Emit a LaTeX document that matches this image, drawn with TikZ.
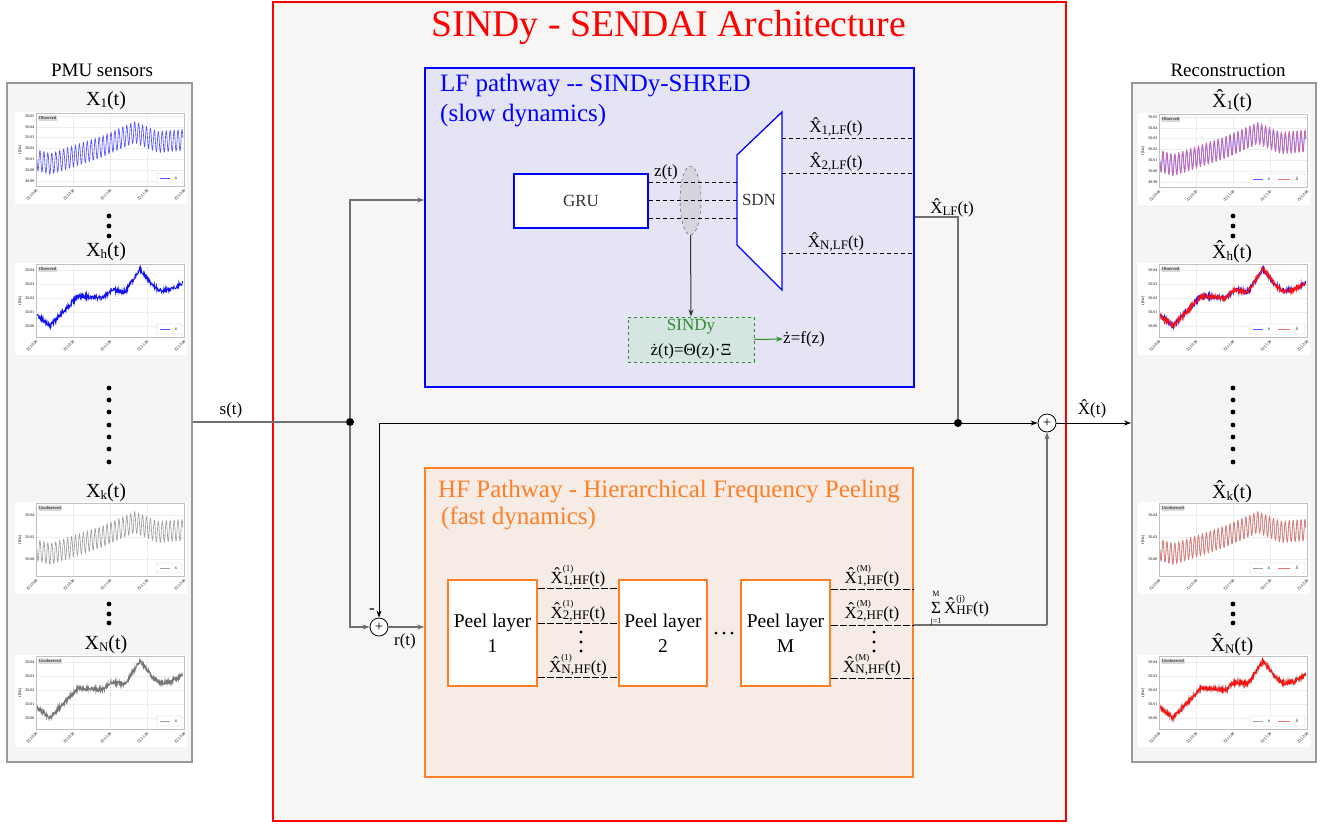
\documentclass[tikz,border=0pt]{standalone}
\usepackage{fontspec}
\setmainfont{Liberation Serif}
\usetikzlibrary{arrows.meta,shapes.geometric,calc}
\definecolor{mainred}{HTML}{FF0000}
\definecolor{mainfill}{HTML}{F7F6F4}
\definecolor{lfblue}{HTML}{0000FF}
\definecolor{lffill}{HTML}{E5E4F4}
\definecolor{hforange}{HTML}{FF7F27}
\definecolor{hffill}{HTML}{F7EBE5}
\definecolor{panelfill}{HTML}{F5F5F5}
\definecolor{panelline}{HTML}{999999}
\definecolor{sgreen}{HTML}{2E8B2E}
\definecolor{sfill}{HTML}{D5E5E2}
\definecolor{ellfill}{HTML}{D5D5E0}
\definecolor{lineGray}{HTML}{707070}
\definecolor{sigblue}{HTML}{1010F0}
\definecolor{sigblueL}{HTML}{5555FF}
\definecolor{siggray}{HTML}{A0A0A0}
\definecolor{siggrayD}{HTML}{777777}
\definecolor{sigred}{HTML}{FF1010}
\definecolor{sigpink}{HTML}{E0508A}
\definecolor{sigpinkL}{HTML}{F07070}

\newcommand\fsz[1]{\fontsize{#1}{#1}\selectfont}
\newcommand\mysub[2][12.5]{\raisebox{-0.2ex}{\fontsize{#1}{#1}\selectfont #2}}
\newcommand\mysupsub[2]{\raisebox{-0.2ex}{\shortstack[l]{\fsz{9}#1\\\fsz{13}#2}}}

\newcommand\sigsmooth[2]{\draw[#1,line width=#2] plot[domain=0:1,samples=700,variable=\t] ({22+146*\t},{tA(\t)+10.5*sin(13320*\t)});}
\newcommand\signoisy[3]{\pgfmathsetseed{#3}\draw[#1,line width=#2] plot[domain=0:1,samples=450,variable=\t] ({22+146*\t},{tB(\t)+2.2*rand});}

\newcommand\legendone[1]{\draw[legbox] (142,61) rectangle (167,71); \draw[#1,line width=0.6pt] (145,66) -- (155,66); \node[legtxt] at (161,66) {\textit{x}};}
\newcommand\legendtwo[2]{\draw[legbox] (112,61) rectangle (167,71); \draw[#1,line width=0.6pt] (115,66) -- (125,66); \node[legtxt] at (131,66) {\textit{x}}; \draw[#2,line width=0.6pt] (140,66) -- (152,66); \node[legtxt] at (160,66) {\textit{\^{x}}};}

\newcommand\plotframe[5]{%
 \begin{scope}[shift={#1}]
  \fill[white] (0,0) rectangle (172,92);
  \foreach \xx in {21,58,95,132,169} \draw[gridln] (\xx,1) -- (\xx,74);
  \foreach \yy/\lab in {#3} {\draw[gridln] (21,\yy) -- (169,\yy);
    \node[ticklab,anchor=east] at (20,\yy) {\lab};}
  #5
  \draw[axframe] (21,1) rectangle (169,74);
  \node[tagbox,anchor=north west] at (23,3.5) {#2};
  #4
  \node[ticklab,rotate=90] at (5,38) {f [Hz]};
  \foreach \xx/\lab in {21/22:50:00,58/22:50:30,95/22:51:00,132/22:51:30,169/22:52:00}
    \node[ticklab,rotate=45,anchor=north east] at (\xx,76) {\lab};
 \end{scope}}

\begin{document}
\begin{tikzpicture}[x=1pt,y=-1pt,
  declare function={
    tA(\t)=(\t<0.09)?(48+44.4*\t):((\t<0.44)?(52-48.6*(\t-0.09)):((\t<0.67)?(35-65*(\t-0.44)):((\t<0.83)?(20+62.5*(\t-0.67)):(30-11.8*(\t-0.83)))));
    tB(\t)=(\t<0.09)?(52+122.2*\t):((\t<0.28)?(63-157.9*(\t-0.09)):((\t<0.45)?(33+11.8*(\t-0.28)):((\t<0.51)?(35-133.3*(\t-0.45)):((\t<0.60)?(27+22.2*(\t-0.51)):((\t<0.705)?(29-219*(\t-0.60)):((\t<0.79)?(6+188.2*(\t-0.705)):((\t<0.84)?(22+120*(\t-0.79)):((\t<0.91)?(28-14.3*(\t-0.84)):(27-77.8*(\t-0.91))))))))));
  },
  mainbox/.style={draw=mainred, fill=mainfill, line width=1.2pt, minimum width=793pt, minimum height=819pt, inner sep=0pt},
  sidepanel/.style={draw=panelline, fill=panelfill, line width=1.8pt, minimum width=185pt, minimum height=679pt, inner sep=0pt},
  lfbox/.style={draw=lfblue, fill=lffill, line width=1.5pt, minimum width=489pt, minimum height=319pt, inner sep=0pt},
  hfbox/.style={draw=hforange, fill=hffill, line width=1.3pt, minimum width=488pt, minimum height=309pt, inner sep=0pt},
  grubox/.style={draw=lfblue, fill=white, line width=1.3pt, minimum width=134pt, minimum height=54pt, font=\fsz{17}, text=black!80},
  sindybox/.style={draw=sgreen, dashed, fill=sfill, line width=0.9pt, minimum width=126pt, minimum height=45pt, inner sep=0pt},
  peelbox/.style={draw=hforange, fill=white, line width=1.3pt, minimum width=89pt, minimum height=106pt, font=\fontsize{19.5}{25}\selectfont, align=center},
  zellipse/.style={ellipse, draw=black!70, dashed, fill=ellfill, minimum width=21pt, minimum height=69pt, inner sep=0pt},
  sumc/.style={circle, draw=black, fill=white, line width=0.8pt, minimum size=18pt, inner sep=0pt, font=\fsz{15}},
  jdot/.style={circle, fill=black, minimum size=8pt, inner sep=0pt},
  gline/.style={draw=lineGray, line width=1.3pt},
  bline/.style={draw=black, line width=1pt},
  arr/.style={-{Stealth[length=7pt,width=5pt]}},
  lfdash/.style={dash pattern=on 4pt off 3pt, line width=0.9pt},
  hfdash/.style={dash pattern=on 7pt off 2pt, line width=1pt},
  lbl/.style={font=\fsz{17}, inner sep=0pt},
  plbl/.style={font=\fsz{20}, inner sep=0pt},
  gridln/.style={draw=black!7, line width=0.3pt},
  axframe/.style={draw=black!25, line width=0.5pt},
  ticklab/.style={font=\fsz{4}, inner sep=0.5pt},
  tagbox/.style={fill=black!15, rounded corners=1pt, font=\fsz{4.5}, inner sep=1pt},
  legbox/.style={draw=black!20, fill=white, line width=0.3pt, rounded corners=0.8pt},
  legtxt/.style={font=\fsz{5}, inner sep=0pt},
  sdot/.style={fill=black},
]
\useasboundingbox (0,0) rectangle (1330,823);
\fill[white] (0,0) rectangle (1330,823);

% main box
\node[mainbox] (main) at (669.5,411.5) {};
\node[font=\fsz{37.7}, text=mainred, inner sep=0pt] (title) at (669,27) {SINDy - SENDAI Architecture};

% side panels
\node[sidepanel] (lp) at (99.5,422.5) {};
\node[sidepanel, minimum width=184pt] (rp) at (1224,422.5) {};
\node[font=\fsz{19}, inner sep=0pt] (lptitle) at (102,70) {PMU sensors};
\node[font=\fsz{19}, inner sep=0pt] (rptitle) at (1228,70) {Reconstruction};

% left panel plots
\node[plbl] (lx1) at (106,101) {X\mysub[13]{1}(t)};
\plotframe{(15,112)}{Observed}{4/50.05,15/50.04,25/50.03,36/50.02,47/50.01,58/50.00,69/49.99}{\legendone{sigblueL}}{\sigsmooth{sigblueL}{0.65pt}}
\node[plbl] (lxh) at (106,252) {X\mysub[13]{h}(t)};
\plotframe{(15,263)}{Observed}{7/50.04,21/50.03,35/50.02,49/50.01,63/50.00}{\legendone{sigblueL}}{\signoisy{sigblue}{0.9pt}{11}}
\node[plbl] (lxk) at (106,493) {X\mysub[13]{k}(t)};
\plotframe{(15,502)}{Unobserved}{13/50.04,35/50.02,57/50.00}{\legendone{siggray}}{\sigsmooth{siggray}{0.65pt}}
\node[plbl] (lxn) at (106,645) {X\mysub[13]{N}(t)};
\plotframe{(15,655)}{Unobserved}{7/50.04,21/50.03,35/50.02,49/50.01,63/50.00}{\legendone{siggray}}{\signoisy{siggrayD}{0.9pt}{21}}

% right panel plots
\node[plbl] (rx1) at (1232,101) {\^{X}\mysub[13]{1}(t)};
\plotframe{(1138,113)}{Observed}{4/50.05,15/50.04,25/50.03,36/50.02,47/50.01,58/50.00,69/49.99}{\legendtwo{sigblueL}{sigpinkL}}{\sigsmooth{sigblueL}{0.75pt}\sigsmooth{sigpink!85}{0.55pt}}
\node[plbl] (rxh) at (1232,252) {\^{X}\mysub[13]{h}(t)};
\plotframe{(1138,263)}{Observed}{7/50.04,21/50.03,35/50.02,49/50.01,63/50.00}{\legendtwo{sigblueL}{sigpinkL}}{\signoisy{sigblue}{0.9pt}{11}\signoisy{sigred}{0.8pt}{12}}
\node[plbl] (rxk) at (1232,492) {\^{X}\mysub[13]{k}(t)};
\plotframe{(1138,502)}{Unobserved}{13/50.04,35/50.02,57/50.00}{\legendtwo{siggray}{sigpinkL}}{\sigsmooth{siggray}{0.65pt}\sigsmooth{sigpinkL}{0.55pt}}
\node[plbl] (rxn) at (1232,645) {\^{X}\mysub[13]{N}(t)};
\plotframe{(1138,655)}{Unobserved}{7/50.04,21/50.03,35/50.02,49/50.01,63/50.00}{\legendtwo{siggray}{sigpinkL}}{\signoisy{siggray}{0.9pt}{21}\signoisy{sigred}{0.8pt}{22}}

% dots in side panels
\foreach \dx in {109,1233}{
  \foreach \dy in {216,226,236,604,614,623} \fill[sdot] (\dx,\dy) circle (2.4pt);
  \foreach \dy in {388,400,412,425,437,449,462} \fill[sdot] (\dx,\dy) circle (2.4pt);
}

% LF pathway
\node[lfbox] (lf) at (669.5,227.5) {};
\node[font=\fsz{25}, text=lfblue, anchor=west, inner sep=0pt] (lft1) at (440,86) {LF pathway -{}- SINDy-SHRED};
\node[font=\fsz{25}, text=lfblue, anchor=west, inner sep=0pt] (lft2) at (440,116) {(slow dynamics)};
\node[grubox] (gru) at (581,201) {GRU};
\node[zellipse] (zell) at (690.5,200.5) {};
\coordinate (sdnTL) at (737,155);
\coordinate (sdnTR) at (782,112);
\coordinate (sdnBR) at (782,290);
\coordinate (sdnBL) at (737,245);
\draw[draw=lfblue, fill=white, line width=1.3pt] (sdnTL) -- (sdnTR) -- (sdnBR) -- (sdnBL) -- cycle;
\node[lbl, font=\fsz{17}, text=black!80] (sdn) at (759,200) {SDN};
\node[lbl] (zt) at (666,172) {z(t)};
\foreach \yy in {182,200,218}
  \draw[lfdash] (gru.east |- 0,\yy) -- (737,\yy);
\node[lbl] (xlf1) at (836,127) {\^{X}\mysub[13]{1,LF}(t)};
\node[lbl] (xlf2) at (836,162) {\^{X}\mysub[13]{2,LF}(t)};
\node[lbl] (xlfn) at (836,242) {\^{X}\mysub[13]{N,LF}(t)};
\foreach \yy in {138,173,253}
  \draw[lfdash] (782,\yy) -- (lf.east |- 0,\yy);
\node[sindybox] (sindy) at (691,339.5) {};
\node[lbl, text=sgreen] (sindyt) at (691,327) {SINDy};
\node[lbl] (sindyeq) at (691,351) {ż(t)=Θ(z)·Ξ};
\node[lbl, anchor=west] (zdot) at (783,339) {ż=f(z)};
\draw[draw=black!80, line width=1pt, arr] (zell.south) -- (sindy.north);
\draw[draw=sgreen, line width=1pt, arr] (sindy.east) -- (zdot.west);

% HF pathway
\node[hfbox] (hf) at (669,622.5) {};
\node[font=\fsz{25}, text=hforange, anchor=west, inner sep=0pt] (hft1) at (438,492) {HF Pathway - Hierarchical Frequency Peeling};
\node[font=\fsz{25}, text=hforange, anchor=west, inner sep=0pt] (hft2) at (441,518) {(fast dynamics)};
\node[peelbox] (p1) at (492.5,633) {Peel layer\\1};
\node[peelbox, minimum width=88pt] (p2) at (663,633) {Peel layer\\2};
\node[peelbox] (pM) at (785.5,633) {Peel layer\\M};
\foreach \yy in {588,623,677}
  \draw[hfdash] (p1.east |- 0,\yy) -- (p2.west |- 0,\yy);
\foreach \yy in {589,625,678}
  \draw[hfdash] (pM.east |- 0,\yy) -- (hf.east |- 0,\yy);
\node[lbl, anchor=base] (h11) at (578,583) {\^{X}\mysupsub{(1)}{1,HF}(t)};
\node[lbl, anchor=base] (h12) at (578,618) {\^{X}\mysupsub{(1)}{2,HF}(t)};
\node[lbl, anchor=base] (h1n) at (578,672) {\^{X}\mysupsub{(1)}{N,HF}(t)};
\node[lbl, anchor=base] (hm1) at (872,583) {\^{X}\mysupsub{(M)}{1,HF}(t)};
\node[lbl, anchor=base] (hm2) at (872,618) {\^{X}\mysupsub{(M)}{2,HF}(t)};
\node[lbl, anchor=base] (hmn) at (872,672) {\^{X}\mysupsub{(M)}{N,HF}(t)};
\foreach \dy in {632,642,651} { \fill[sdot] (581,\dy) circle (1.7pt); \fill[sdot] (874,\dy) circle (1.7pt); }
\foreach \dx in {716,724,732} \fill[sdot] (\dx,633) circle (1.5pt);

% sum nodes and junctions
\node[jdot] (j1) at (350,422) {};
\node[jdot] (j2) at (958,423) {};
\node[sumc] (s1) at (379,627) {+};
\node[sumc] (s2) at (1047,423) {+};
\coordinate (c1) at (350,200);
\coordinate (c3) at (379,423);
\coordinate (c4) at (958,217);
\coordinate (c5) at (1047,625);

% connectors
\draw[gline] (lp.east |- j1) -- (j1);
\draw[gline, arr] (j1) -- (c1) -- (lf.west |- c1);
\draw[gline, arr] (j1) |- (s1.west);
\draw[bline, arr] (c3) -- (s1.north);
\draw[bline, arr] (c3) -- (s2.west);
\draw[gline] (lf.east |- c4) -- (c4) -- (j2);
\draw[bline, arr] (s2.east) -- (rp.west |- s2);
\draw[gline, arr] (s1.east) -- (hf.west |- s1);
\draw[gline] (hf.east |- c5) -- (c5);
\draw[gline, arr] (c5) -- (s2.south);

% connector labels
\node[lbl] (slab) at (231,410) {s(t)};
\node[lbl] (rlab) at (405,641) {r(t)};
\node[lbl] (minus) at (372,611) {-};
\node[lbl] (xhat) at (1092,409) {\^{X}(t)};
\node[lbl] (xlf) at (952,208) {\^{X}\mysub[13]{LF}(t)};
\node[lbl, font=\fsz{17}] (sig) at (936,608) {Σ};
\node[lbl, font=\fsz{8}] (sigM) at (936,594) {M};
\node[lbl, font=\fsz{8}] (sigj) at (936,622) {j=1};
\node[lbl, anchor=base west] (sumx) at (944,613) {\^{X}\mysupsub{(j)}{HF}(t)};
\end{tikzpicture}
\end{document}
